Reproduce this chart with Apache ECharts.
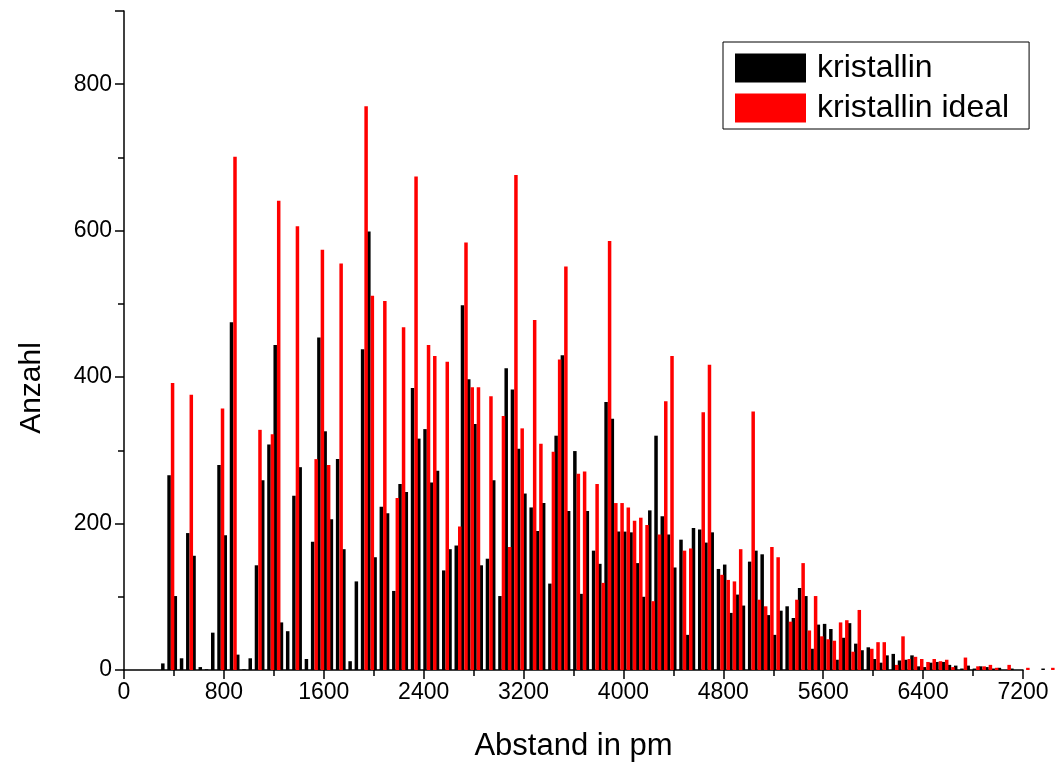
<!DOCTYPE html>
<html>
<head>
<meta charset="utf-8">
<script src="https://cdn.jsdelivr.net/npm/echarts@6/dist/echarts.min.js"></script>
<style>
html,body{margin:0;padding:0;background:#fff;}
#chart{width:1055px;height:771px;}
</style>
</head>
<body>
<div id="chart"></div>
<script>
// Bin centres (pm)
const binCenters = [
325,375,425,475,525,575,625,675,725,775,825,875,925,975,1025,1075,1125,1175,1225,1275,
1325,1375,1425,1475,1525,1575,1625,1675,1725,1775,1825,1875,1925,1975,2025,2075,2125,2175,2225,2275,
2325,2375,2425,2475,2525,2575,2625,2675,2725,2775,2825,2875,2925,2975,3025,3075,3125,3175,3225,3275,
3325,3375,3425,3475,3525,3575,3625,3675,3725,3775,3825,3875,3925,3975,4025,4075,4125,4175,4225,4275,
4325,4375,4425,4475,4525,4575,4625,4675,4725,4775,4825,4875,4925,4975,5025,5075,5125,5175,5225,5275,
5325,5375,5425,5475,5525,5575,5625,5675,5725,5775,5825,5875,5925,5975,6025,6075,6125,6175,6225,6275,
6325,6375,6425,6475,6525,6575,6625,6675,6725,6775,6825,6875,6925,6975,7025,7075,7125,7175,7225,7275,
7325,7375,7425
];
// Series "kristallin" (black)
const kristallin = [
9,266,101,16,187,156,4,1,51,280,184,475,21,1,16,143,259,308,444,65,
53,238,277,15,175,454,326,206,288,165,12,121,438,599,154,223,214,108,254,243,
385,316,329,256,272,136,165,170,498,397,336,143,152,259,101,412,383,302,241,222,
190,228,118,320,430,217,299,104,217,163,145,366,343,189,189,188,146,100,218,320,
210,185,140,178,48,194,192,174,188,138,144,78,103,88,148,163,158,75,48,81,
87,71,112,101,29,62,63,56,14,44,64,36,27,31,15,10,20,22,13,14,
20,5,4,10,11,11,7,6,2,6,2,5,4,2,3,0,2,0,0,0,
0,2,0
];
// Series "kristallin ideal" (red)
const kristallinIdeal = [
0,392,0,0,376,0,0,0,0,357,0,701,0,0,0,328,0,322,641,0,
0,606,0,0,288,574,280,0,555,0,0,0,770,511,0,504,0,235,468,0,
674,0,444,429,0,421,0,196,584,386,386,0,374,0,347,168,676,330,0,478,
309,0,298,424,551,0,268,271,0,254,119,586,228,228,222,204,208,198,94,185,
367,429,0,163,166,0,352,417,0,130,123,121,165,0,353,96,87,168,154,0,
66,96,146,54,101,46,42,40,65,68,25,82,0,29,38,38,0,7,46,15,
18,15,11,15,12,14,4,0,17,0,5,5,7,3,0,7,0,0,3,0,
0,0,3
];
const xTicks = {min: 0, max: 7200, interval: 800};
const yTicks = {min: 0, max: 900, interval: 200};
const seriesNames = ['kristallin', 'kristallin ideal'];

const chart = echarts.init(document.getElementById('chart'), null, {renderer: 'canvas'});
const font = 'Liberation Sans, Arial, sans-serif';
const option = {
  animation: false,
  backgroundColor: '#fff',
  grid: {left: 124, right: 32, top: 11, bottom: 101, containLabel: false},
  legend: {
    orient: 'vertical',
    left: 723, top: 42,
    padding: [10, 20, 5, 12],
    borderColor: '#000', borderWidth: 1,
    backgroundColor: '#fff',
    itemWidth: 71, itemHeight: 29, itemGap: 8,
    icon: 'rect',
    textStyle: {fontFamily: font, fontSize: 32, color: '#000', padding: [0, 0, 0, 6], lineHeight: 30},
    data: seriesNames
  },
  xAxis: {
    type: 'value',
    min: xTicks.min, max: xTicks.max, interval: xTicks.interval,
    name: 'Abstand in pm', nameLocation: 'middle', nameGap: 61,
    nameTextStyle: {fontFamily: font, fontSize: 31, color: '#000'},
    axisLine: {show: true, lineStyle: {color: '#000', width: 1.5}},
    axisTick: {show: true, length: 9, lineStyle: {color: '#000', width: 1.5}},
    minorTick: {show: true, splitNumber: 2, length: 6, lineStyle: {color: '#000', width: 1.5}},
    axisLabel: {fontFamily: font, fontSize: 23, color: '#000', margin: 11, formatter: v => String(v)},
    splitLine: {show: false}
  },
  yAxis: {
    type: 'value',
    min: yTicks.min, max: yTicks.max, interval: yTicks.interval,
    axisLine: {show: true, lineStyle: {color: '#000', width: 1.5}},
    axisTick: {show: true, length: 9, lineStyle: {color: '#000', width: 1.5}},
    minorTick: {show: true, splitNumber: 2, length: 6, lineStyle: {color: '#000', width: 1.5}},
    axisLabel: {fontFamily: font, fontSize: 23, color: '#000', margin: 12, showMaxLabel: false, formatter: v => String(v)},
    splitLine: {show: false}
  },
  graphic: [{
    type: 'text',
    rotation: Math.PI / 2,
    style: {text: 'Anzahl', font: '30px ' + font, fill: '#000', textAlign: 'center', textVerticalAlign: 'middle'},
    x: 32, y: 388
  }],
  series: [
    {
      name: seriesNames[0], type: 'bar', clip: false,
      barWidth: 3.5, barGap: '0%',
      itemStyle: {color: '#000'},
      data: binCenters.map((x, i) => [x, kristallin[i]])
    },
    {
      name: seriesNames[1], type: 'bar', clip: false,
      barWidth: 3.5, barGap: '0%',
      itemStyle: {color: '#ff0000'},
      data: binCenters.map((x, i) => [x, kristallinIdeal[i]])
    }
  ]
};
chart.setOption(option);
</script>
</body>
</html>
